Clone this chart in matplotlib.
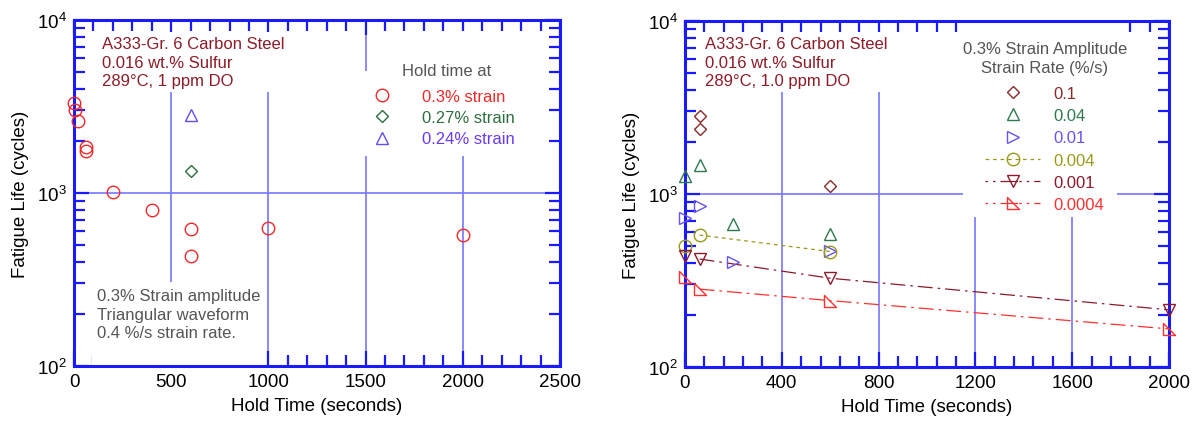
import matplotlib
matplotlib.use("Agg")
import matplotlib.pyplot as plt
import numpy as np
from matplotlib.ticker import MultipleLocator, LogLocator, NullFormatter
from matplotlib.path import Path
from matplotlib.patches import Rectangle

plt.rcParams['font.family'] = ['Liberation Sans', 'DejaVu Sans']
plt.rcParams['mathtext.fontset'] = 'custom'
plt.rcParams['mathtext.rm'] = 'Liberation Sans'
plt.rcParams['mathtext.it'] = 'Liberation Sans'

# ---------------- data: left panel (hold time at strain) ----------------
hold_03 = [0, 5, 20, 60, 60, 200, 400, 600, 600, 1000, 2000]
life_03 = [3300, 3020, 2610, 1840, 1740, 1018, 798, 620, 435, 625, 571]
hold_027 = [600]
life_027 = [1346]
hold_024 = [600]
life_024 = [2825]

# ---------------- data: right panel (strain rate) ----------------
hold_r01 = [60, 60, 600]
life_r01 = [2840, 2380, 1110]
hold_r004a = [0, 60, 200, 600]
life_r004a = [1276, 1476, 671, 588]
hold_r001a = [0, 60, 200, 600]
life_r001a = [725, 855, 403, 470]
hold_r0004 = [0, 60, 600]
life_r0004 = [499, 579, 465]
hold_r0001 = [0, 60, 600, 2000]
life_r0001 = [439, 421, 326, 214]
hold_r00004 = [0, 60, 600, 2000]
life_r00004 = [330, 282, 242, 166]

rate_labels = ['0.1', '0.04', '0.01', '0.004', '0.001', '0.0004']
left_labels = ['0.3% strain', '0.27% strain', '0.24% strain']

BLUE = '#1a1aff'
GRID = '#7777ff'
DKRED = '#8B1C28'
GREY = '#555555'

W, H = 1195, 427
L_BOX = (74, 21, 560, 367)
R_BOX = (685, 22, 1169, 368)
fig = plt.figure(figsize=(W / 100, H / 100), dpi=100)
axL = fig.add_axes([L_BOX[0] / W, (H - L_BOX[3]) / H, (L_BOX[2] - L_BOX[0]) / W, (L_BOX[3] - L_BOX[1]) / H])
axR = fig.add_axes([R_BOX[0] / W, (H - R_BOX[3]) / H, (R_BOX[2] - R_BOX[0]) / W, (R_BOX[3] - R_BOX[1]) / H])


def frac(box, px, py):
    return ((px - box[0]) / (box[2] - box[0]), (box[3] - py) / (box[3] - box[1]))


def blank(ax, box, x0, y0, x1, y1):
    fx0, fy1 = frac(box, x0, y1)
    fx1, fy0 = frac(box, x1, y0)
    ax.add_patch(Rectangle((fx0, fy1), fx1 - fx0, fy0 - fy1, transform=ax.transAxes,
                           fc='white', ec='none', zorder=2, clip_on=False))


tri_corner = Path([(-1, 1), (-1, -1), (1, -1), (-1, 1)],
                  [Path.MOVETO, Path.LINETO, Path.LINETO, Path.CLOSEPOLY])


def style_axes(ax, xmax, xmajor, xminor):
    ax.set_yscale('log')
    ax.set_ylim(100, 10000)
    ax.set_xlim(0, xmax)
    ax.xaxis.set_major_locator(MultipleLocator(xmajor))
    ax.xaxis.set_minor_locator(MultipleLocator(xminor))
    ax.yaxis.set_major_locator(LogLocator(base=10, numticks=5))
    ax.yaxis.set_minor_locator(LogLocator(base=10, subs=np.arange(2, 10), numticks=20))
    ax.yaxis.set_minor_formatter(NullFormatter())
    for s in ax.spines.values():
        s.set_color(BLUE)
        s.set_linewidth(2.2)
    ax.tick_params(which='both', direction='in', top=True, right=True,
                   color=BLUE, width=1.6, labelsize=13.5, pad=5)
    ax.tick_params(which='major', length=11)
    ax.tick_params(which='minor', length=8)
    ax.set_xlabel('Hold Time (seconds)', fontsize=13.5, labelpad=5)
    ax.set_ylabel('Fatigue Life (cycles)', fontsize=13.5, labelpad=6)
    for xv in ax.get_xticks():
        if 0 < xv < xmax:
            ax.axvline(xv, color=GRID, lw=1.2, zorder=1)
    ax.axhline(1000, color=GRID, lw=1.2, zorder=1)


style_axes(axL, 2500, 500, 100)
style_axes(axR, 2000, 400, 80)

# ---------------- left panel ----------------
msz = 9
axL.plot(hold_03, life_03, 'o', mfc='none', mec='#ee2a2a', ms=msz, mew=1.0,
         ls='none', label=left_labels[0], zorder=4, clip_on=False)
axL.plot(hold_027, life_027, 'D', mfc='none', mec='#2f6f3f', ms=msz * 0.7, mew=1.0,
         ls='none', label=left_labels[1], zorder=4)
axL.plot(hold_024, life_024, '^', mfc='none', mec='#6a4af0', ms=msz, mew=1.0,
         ls='none', label=left_labels[2], zorder=4)

tx, ty = frac(L_BOX, 102, 37)
axL.text(tx, ty, 'A333-Gr. 6 Carbon Steel\n0.016 wt.% Sulfur\n289°C, 1 ppm DO',
         transform=axL.transAxes, ha='left', va='top', fontsize=12, color=DKRED,
         linespacing=1.3, zorder=2,
         bbox=dict(boxstyle='square,pad=0.25', fc='white', ec='none'))
blank(axL, L_BOX, 92, 283, 265, 367)
tx, ty = frac(L_BOX, 97, 289)
axL.text(tx, ty, '0.3% Strain amplitude\nTriangular waveform\n0.4 %/s strain rate.',
         transform=axL.transAxes, ha='left', va='top', fontsize=12, color=GREY,
         linespacing=1.3, zorder=2.1)

blank(axL, L_BOX, 362, 72, 532, 157)
blank(axL, L_BOX, 400, 32, 532, 72)
tx, ty = frac(L_BOX, 447, 72)
axL.text(tx, ty, 'Hold time at', transform=axL.transAxes, ha='center', va='center',
         fontsize=12, color=GREY, zorder=2.1)
ax0, ay0 = frac(L_BOX, 374, 90)
legL = axL.legend(loc='upper left', bbox_to_anchor=(ax0, ay0), frameon=False,
                  fontsize=12, handlelength=1.0, handletextpad=1.88, labelspacing=0.37,
                  borderpad=0, borderaxespad=0,
                  labelcolor=['#ee2a2a', '#2f6f3f', '#6a3af0'])
legL.set_zorder(2.2)

# ---------------- right panel ----------------
c01, c004, c001, c0004, c0001, c00004 = '#8B2A2A', '#2E7A4E', '#6655EE', '#9A9A1A', '#8B1A2A', '#FF3030'

axR.plot(hold_r01, life_r01, 'D', mfc='none', mec=c01, ms=msz * 0.7, mew=1.0,
         ls='none', zorder=4)
axR.plot(hold_r004a, life_r004a, '^', mfc='none', mec=c004, ms=msz, mew=1.0,
         ls='none', zorder=4, clip_on=False)
axR.plot(hold_r001a, life_r001a, '>', mfc='none', mec=c001, ms=msz, mew=1.0,
         ls='none', zorder=4, clip_on=False)

# connecting lines (drawn through hold-time points)
axR.plot(hold_r0004[1:], life_r0004[1:], ls=(0, (3, 3)), color=c0004, lw=0.9, zorder=3)
axR.plot(hold_r0001[1:], life_r0001[1:], ls=(0, (12, 4, 2, 4)), color=c0001, lw=0.9, zorder=3)
axR.plot(hold_r00004[1:], life_r00004[1:], ls=(0, (12, 4, 2, 4)), color=c00004, lw=0.9, zorder=3)

axR.plot(hold_r0004, life_r0004, 'o', mfc='none', mec=c0004, ms=msz, mew=1.0,
         ls='none', zorder=4, clip_on=False)
axR.plot(hold_r0001, life_r0001, 'v', mfc='none', mec=c0001, ms=msz, mew=1.0,
         ls='none', zorder=4, clip_on=False)
axR.plot(hold_r00004, life_r00004, marker=tri_corner, mfc='none', mec=c00004, ms=msz * 0.9,
         mew=1.0, ls='none', zorder=4, clip_on=False)

# legend proxies with line + marker
h1, = axR.plot([], [], 'D', mfc='none', mec=c01, ms=msz * 0.7, mew=1.0, ls='none')
h2, = axR.plot([], [], '^', mfc='none', mec=c004, ms=msz, mew=1.0, ls='none')
h3, = axR.plot([], [], '>', mfc='none', mec=c001, ms=msz, mew=1.0, ls='none')
h4, = axR.plot([], [], marker='o', mfc='none', mec=c0004, ms=msz, mew=1.0,
               ls=(0, (3, 3)), color=c0004, lw=0.9)
h5, = axR.plot([], [], marker='v', mfc='none', mec=c0001, ms=msz, mew=1.0,
               ls=(0, (2, 4, 2, 4, 14, 1)), color=c0001, lw=0.9)
h6, = axR.plot([], [], marker=tri_corner, mfc='none', mec=c00004, ms=msz * 0.9, mew=1.0,
               ls=(0, (2, 4, 2, 4, 14, 1)), color=c00004, lw=0.9)

blank(axR, R_BOX, 963, 22, 1117, 218)
tx, ty = frac(R_BOX, 1045, 59)
axR.text(tx, ty, '0.3% Strain Amplitude\nStrain Rate (%/s)', transform=axR.transAxes,
         ha='center', va='center', multialignment='center', fontsize=12, color=GREY,
         linespacing=1.3, zorder=2.1)
ax0, ay0 = frac(R_BOX, 985, 87)
legR = axR.legend([h1, h2, h3, h4, h5, h6], rate_labels, loc='upper left',
                  bbox_to_anchor=(ax0, ay0), frameon=False, fontsize=12,
                  handlelength=3.3, handletextpad=0.78, labelspacing=0.43,
                  borderpad=0, borderaxespad=0,
                  labelcolor=[c01, c004, c001, c0004, c0001, c00004])
legR.set_zorder(2.2)

tx, ty = frac(R_BOX, 705, 37)
axR.text(tx, ty, 'A333-Gr. 6 Carbon Steel\n0.016 wt.% Sulfur\n289°C, 1.0 ppm DO',
         transform=axR.transAxes, ha='left', va='top', fontsize=12, color=DKRED,
         linespacing=1.3, zorder=2,
         bbox=dict(boxstyle='square,pad=0.25', fc='white', ec='none'))

fig.savefig('out.png', dpi=100)
